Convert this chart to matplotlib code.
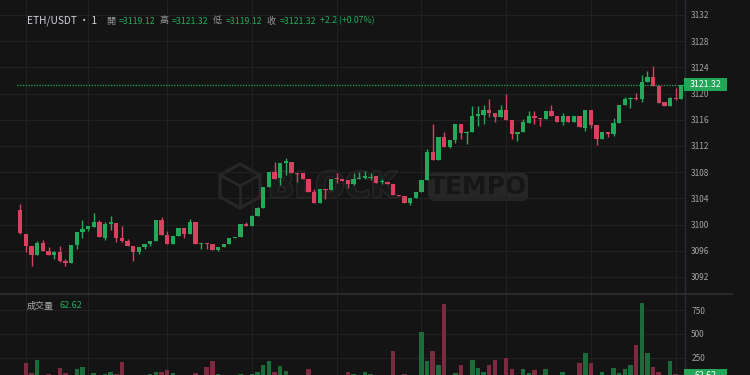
import matplotlib
matplotlib.use('Agg')
import matplotlib.pyplot as plt
from matplotlib.patches import Rectangle, FancyBboxPatch, Polygon
from matplotlib.transforms import Affine2D
from matplotlib import patheffects as pe

FONT = ['Noto Sans CJK TC', 'DejaVu Sans']
plt.rcParams['font.family'] = FONT

# ---------------- data ----------------
opens = [3102.2, 3098.6, 3096.7, 3095.3, 3097.2, 3096.0, 3095.3, 3095.85, 3094.5, 3094.1,
         3096.9, 3098.8, 3099.4, 3099.7, 3100.35, 3098.0, 3100.05, 3100.3, 3098.0, 3097.5,
         3096.7, 3095.8, 3096.5, 3097.1, 3097.5, 3100.65, 3098.4, 3097.1, 3098.3, 3099.5,
         3098.5, 3100.35, 3097.1, 3097.15, 3097.1, 3096.15, 3096.6, 3097.1, 3097.9, 3098.15,
         3100.1, 3099.85, 3101.3, 3102.5, 3105.8, 3108.0, 3107.1, 3109.45, 3109.6, 3107.9,
         3107.8, 3107.0, 3104.9, 3103.35, 3105.5, 3105.3, 3107.0, 3107.0, 3106.8, 3106.2,
         3107.0, 3107.1, 3107.1, 3107.45, 3106.55, 3106.5, 3106.15, 3104.5, 3104.3, 3103.35,
         3104.0, 3104.9, 3106.8, 3111.1, 3109.85, 3113.3, 3111.9, 3112.9, 3115.3, 3114.0,
         3114.1, 3116.55, 3116.8, 3117.5, 3117.1, 3116.4, 3117.5, 3115.9, 3113.9, 3114.1,
         3115.55, 3116.55, 3116.3, 3116.1, 3117.35, 3116.65, 3115.6, 3116.65, 3115.7, 3116.65,
         3114.8, 3117.5, 3115.2, 3113.0, 3114.1, 3113.85, 3115.45, 3118.3, 3119.1, 3119.4,
         3119.1, 3121.7, 3122.55, 3121.2, 3118.65, 3118.15, 3119.35, 3119.12]
highs = [3103.1, 3098.6, 3096.7, 3097.5, 3097.7, 3096.5, 3095.9, 3096.7, 3094.8, 3096.9,
         3098.8, 3100.7, 3099.8, 3101.8, 3100.7, 3100.4, 3101.3, 3100.3, 3099.85, 3097.8,
         3096.7, 3096.6, 3097.1, 3097.5, 3100.7, 3101.1, 3099.0, 3098.3, 3099.5, 3099.5,
         3100.8, 3100.35, 3097.15, 3097.15, 3097.1, 3096.6, 3097.1, 3097.9, 3098.15, 3100.1,
         3100.35, 3101.5, 3102.65, 3105.8, 3108.0, 3109.6, 3109.45, 3110.1, 3109.6, 3107.9,
         3107.8, 3107.0, 3105.5, 3105.5, 3105.5, 3107.0, 3107.9, 3107.0, 3106.8, 3107.85,
         3108.1, 3108.2, 3107.85, 3107.45, 3106.9, 3106.5, 3106.15, 3104.5, 3104.3, 3104.0,
         3104.9, 3106.8, 3111.6, 3115.3, 3113.3, 3114.1, 3112.9, 3115.3, 3115.3, 3114.25,
         3118.1, 3118.1, 3118.2, 3119.2, 3117.1, 3118.2, 3120.0, 3115.9, 3114.15, 3116.15,
         3117.3, 3117.4, 3116.3, 3117.35, 3118.2, 3116.65, 3117.0, 3116.65, 3116.65, 3116.65,
         3117.5, 3117.5, 3115.2, 3114.1, 3114.1, 3116.3, 3118.3, 3119.5, 3119.5, 3120.05,
         3122.8, 3123.4, 3124.2, 3121.2, 3118.65, 3119.5, 3120.8, 3121.32]
lows = [3098.6, 3095.8, 3093.6, 3095.3, 3095.9, 3095.3, 3094.7, 3094.35, 3093.6, 3094.1,
        3096.2, 3098.0, 3099.0, 3099.7, 3098.1, 3097.7, 3099.1, 3097.4, 3097.4, 3096.7,
        3094.5, 3095.5, 3096.2, 3096.7, 3097.5, 3098.4, 3097.1, 3097.1, 3098.3, 3098.0,
        3098.5, 3097.1, 3096.3, 3096.3, 3096.15, 3095.95, 3096.6, 3097.1, 3097.9, 3098.15,
        3099.85, 3099.85, 3101.3, 3102.5, 3105.8, 3107.0, 3106.0, 3107.6, 3107.85, 3106.55,
        3107.0, 3104.9, 3103.35, 3103.35, 3103.85, 3105.3, 3106.4, 3106.7, 3105.6, 3106.0,
        3106.9, 3107.0, 3106.8, 3106.4, 3106.15, 3106.15, 3104.5, 3104.3, 3103.35, 3103.0,
        3104.0, 3104.9, 3106.8, 3109.85, 3109.85, 3111.9, 3111.7, 3112.5, 3113.1, 3112.3,
        3114.1, 3115.1, 3115.4, 3116.4, 3115.6, 3116.4, 3115.9, 3113.1, 3112.8, 3114.1,
        3115.55, 3115.3, 3115.1, 3116.1, 3116.65, 3115.6, 3115.2, 3115.6, 3115.7, 3114.9,
        3114.35, 3114.7, 3112.15, 3113.0, 3113.3, 3113.6, 3115.45, 3118.3, 3117.8, 3118.95,
        3118.7, 3121.7, 3121.2, 3118.6, 3118.15, 3118.15, 3119.0, 3119.12]
closes = [3098.7, 3096.8, 3095.3, 3097.2, 3095.9, 3095.3, 3095.85, 3094.4, 3094.2, 3096.9,
          3098.8, 3099.4, 3099.75, 3100.35, 3098.1, 3100.05, 3100.35, 3098.0, 3097.45, 3096.7,
          3095.8, 3096.6, 3097.1, 3097.5, 3100.65, 3098.4, 3097.1, 3098.3, 3099.5, 3098.55,
          3100.35, 3097.1, 3097.15, 3097.1, 3096.15, 3096.6, 3097.1, 3097.9, 3098.15, 3100.1,
          3099.85, 3101.3, 3102.6, 3105.8, 3108.0, 3107.0, 3109.45, 3109.7, 3107.85, 3107.75,
          3107.0, 3104.9, 3103.35, 3105.5, 3105.3, 3107.0, 3106.95, 3106.7, 3106.2, 3107.0,
          3107.1, 3107.35, 3107.2, 3106.4, 3106.6, 3106.15, 3104.5, 3104.3, 3103.35, 3104.0,
          3104.9, 3106.8, 3111.1, 3109.85, 3113.3, 3111.9, 3112.9, 3115.3, 3113.95, 3114.2,
          3116.55, 3116.85, 3117.45, 3117.0, 3116.4, 3117.5, 3115.9, 3113.9, 3114.15, 3115.6,
          3116.55, 3116.3, 3116.05, 3117.35, 3116.65, 3115.6, 3116.65, 3115.6, 3116.65, 3114.9,
          3117.5, 3115.2, 3113.0, 3114.1, 3113.9, 3115.5, 3118.3, 3119.1, 3119.3, 3119.1,
          3121.7, 3122.55, 3121.2, 3118.6, 3118.15, 3119.35, 3119.1, 3121.32]
volumes = [52, 189, 83, 224, 45, 76, 38, 143, 90, 55,
           125, 150, 30, 87, 48, 76, 94, 80, 199, 42,
           58, 35, 40, 80, 94, 97, 115, 83, 50, 36,
           55, 83, 20, 153, 217, 76, 40, 45, 30, 76,
           35, 76, 101, 171, 217, 97, 160, 111, 55, 40,
           45, 129, 60, 50, 38, 52, 30, 25, 94, 80,
           40, 101, 76, 45, 30, 35, 319, 40, 76, 50,
           60, 522, 217, 319, 174, 818, 55, 90, 167, 60,
           224, 139, 101, 174, 220, 58, 241, 125, 50, 125,
           87, 115, 45, 125, 55, 48, 97, 50, 40, 196,
           294, 196, 60, 97, 35, 136, 83, 125, 167, 382,
           822, 301, 146, 101, 45, 210, 76, 62.62]
price_ticks = [3092, 3096, 3100, 3104, 3108, 3112, 3116, 3120, 3124, 3128, 3132]
volume_ticks = [250, 500, 750]
time_grid = [1.1, 12, 26, 41, 56, 71, 86, 101, 116]
symbol = 'ETH/USDT · 1'
ohlc_labels = ['開', '高', '低', '收']
ohlc_values = ['=3119.12', '=3121.32', '=3119.12', '=3121.32']
change_text = '+2.2 (+0.07%)'
last_price = 3121.32
last_volume = 62.62

# ---------------- style ----------------
BG = '#141414'
GRID = '#212121'
GREEN = '#24a95b'
RED = '#d8415f'
VGREEN = '#1c6b3a'
VRED = '#7c2a40'
TXT = '#d1d4dc'
AXTXT = '#a3a3a3'

W, H = 750, 375
fig = plt.figure(figsize=(7.5, 3.75), dpi=100, facecolor=BG)
PX = Affine2D().scale(1 / W, -1 / H).translate(0, 1) + fig.transFigure

AX_RIGHT = 685
SEP = 294
ax = fig.add_axes([0, 1 - SEP / H, AX_RIGHT / W, SEP / H])
axv = fig.add_axes([0, 0, AX_RIGHT / W, (H - SEP) / H])
XLIM = (-3.59, 117.65)

for a in (ax, axv):
    a.set_facecolor('none')
    a.set_xlim(*XLIM)
    for s in a.spines.values():
        s.set_visible(False)
    a.set_xticks(time_grid)
    a.tick_params(axis='x', length=0, labelbottom=False)
    a.yaxis.tick_right()
    a.tick_params(axis='y', length=0, pad=4.5, labelsize=6, labelcolor=AXTXT)
    a.grid(True, color=GRID, lw=0.8, zorder=0)
    a.set_axisbelow(True)

ax.set_ylim(3089.4, 3134.29)
ax.set_yticks(price_ticks)
axv.set_ylim(65.4, 920)
axv.set_yticks(volume_ticks)

# candles
n = len(opens)
for i in range(n):
    o, h, l, c = opens[i], highs[i], lows[i], closes[i]
    up = c >= o
    col = GREEN if up else RED
    ax.vlines(i, l, h, color=col, lw=1.0, zorder=3)
    body = max(abs(c - o), 0.13)
    ax.bar(i, body, bottom=min(o, c), width=0.76, color=col, lw=0, zorder=4)
    axv.bar(i, volumes[i], width=0.8, color=VGREEN if up else VRED, lw=0, zorder=3)

# last price dotted line
ax.hlines(last_price, -0.5, XLIM[1], colors=GREEN, lw=0.9, linestyles=(0, (1, 1.2)), zorder=5)

# watermark (behind the axes content)
wm = '#272727'
cx, cy = 240, 186
cube = [(cx, cy - 22), (cx + 20, cy - 11), (cx + 20, cy + 11), (cx, cy + 22), (cx - 20, cy + 11), (cx - 20, cy - 11)]
fig.add_artist(Polygon(cube, closed=True, fill=False, ec=wm, lw=2.2, transform=PX, zorder=-1))
fig.add_artist(Polygon([(cx - 20, cy - 11), (cx, cy), (cx + 20, cy - 11)], closed=False, fill=False, ec=wm, lw=2.0, transform=PX, zorder=-1))
fig.add_artist(Polygon([(cx, cy), (cx, cy + 22)], closed=False, fill=False, ec=wm, lw=2.0, transform=PX, zorder=-1))
fig.text(268, 187, 'BLOCK', transform=PX, fontsize=25, fontweight='bold', color='#191919',
         ha='left', va='center', family=['DejaVu Sans'], zorder=-1,
         path_effects=[pe.withStroke(linewidth=2.0, foreground=wm)])
fig.add_artist(FancyBboxPatch((428, 173), 100, 28, boxstyle='round,pad=0,rounding_size=6',
                              fc='#262626', ec='none', transform=PX, zorder=-1))
fig.text(478, 187.5, 'TEMPO', transform=PX, fontsize=18, fontweight='bold', color='#161616',
         ha='center', va='center', family=['DejaVu Sans'], zorder=-0.9)

# separators / axis line
fig.add_artist(plt.Line2D([0, 732 / W], [1 - SEP / H, 1 - SEP / H], color='#2a2a2a', lw=1.5, transform=fig.transFigure))
fig.add_artist(plt.Line2D([AX_RIGHT / W, AX_RIGHT / W], [0, 1], color='#2a2d36', lw=1.0, transform=fig.transFigure))

# price boxes
fig.canvas.draw()
def box(axis, val, label):
    y_disp = axis.transData.transform((0, val))[1]
    y_px = H - y_disp
    fig.add_artist(Rectangle((684, y_px - 6.5), 43, 13, transform=PX, fc='#22a658', ec='none', zorder=10))
    fig.text(705.5, y_px, label, transform=PX, fontsize=6.3, color='white', ha='center', va='center', zorder=11)

box(ax, last_price, f'{last_price:.2f}')
box(axv, last_volume, f'{last_volume:.2f}')

# title texts
fig.text(26.7, 21, symbol, transform=PX, fontsize=7.3, color=TXT, ha='left', va='center')
label_x = [106, 159, 212.5, 266.5]
value_x = [118.5, 171.5, 225.5, 279.5]
for lx, vx, lab, v in zip(label_x, value_x, ohlc_labels, ohlc_values):
    fig.text(lx, 21, lab, transform=PX, fontsize=6.5, color='#9a9a9a', ha='left', va='center')
    fig.text(vx, 21, v, transform=PX, fontsize=6.3, color=GREEN, ha='left', va='center')
fig.text(320, 21, change_text, transform=PX, fontsize=6.3, color=GREEN, ha='left', va='center')

fig.text(26.7, 306, '成交量', transform=PX, fontsize=6.5, color='#a8a8a8', ha='left', va='center')
fig.text(59, 306, f'{last_volume:.2f}', transform=PX, fontsize=6.5, color=GREEN, ha='left', va='center')

fig.savefig('out.png', dpi=100, facecolor=BG)
